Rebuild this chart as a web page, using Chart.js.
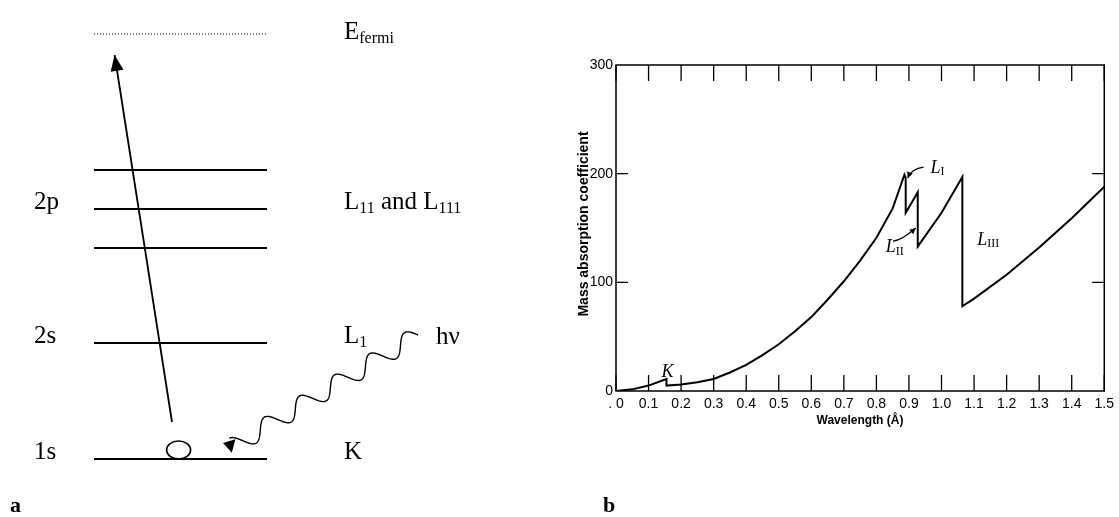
<!DOCTYPE html>
<html><head><meta charset="utf-8">
<script src="https://cdn.jsdelivr.net/npm/chart.js@4.4.1/dist/chart.umd.min.js"></script>
<style>
html,body{margin:0;padding:0;background:#fff;}
#wrap{position:relative;width:1119px;height:517px;overflow:hidden;background:#fff;}
canvas{position:absolute;top:0;}
#left{left:0;} #right{left:560px;}
</style></head><body>
<div id="wrap"><canvas id="left" width="560" height="517"></canvas><canvas id="right" width="559" height="517"></canvas></div>
<script>
// ===== Panel a: energy level diagram (energy units, 1s = 0)
const levelEnergies = [0, 116, 211, 250, 289];
const fermiEnergy = 425;
const levelSpan = [94, 267];
const shellLabels = ['1s', '2s', '2p'];
const shellEnergies = [0, 116, 250];
const edgeLabels = [
  [['K', 0]],
  [['L', 0], ['1', 1]],
  [['L', 0], ['11', 1], [' and L', 0], ['111', 1]],
  [['E', 0], ['fermi', 1]]
];
const edgeEnergies = [0, 116, 250, 420];
const transitionFrom = [172, 37];
const transitionTo = [114.6, 404];
const photonFrom = [418, 124];
const photonTo = [234, 13];
const photonLabel = 'hν';
const coreHole = [178.6, 9];

// ===== Panel b: mass absorption coefficient vs wavelength
const wavelength = [0, 0.05, 0.1, 0.155, 0.155, 0.2, 0.25, 0.3, 0.35, 0.4, 0.45, 0.5, 0.55, 0.6, 0.65, 0.7, 0.75, 0.8, 0.85, 0.886, 0.89, 0.89, 0.927, 0.927, 1.0, 1.064, 1.064, 1.1, 1.2, 1.3, 1.4, 1.5];
const coefficient = [0, 1.5, 5, 11, 5, 6, 8, 11, 17, 24, 33, 43, 55, 68, 84, 101, 120, 141, 168, 199, 196, 164, 183, 133, 164, 197, 78, 85, 107, 132, 159, 188];
const xTickLabels = ['. 0', '0.1', '0.2', '0.3', '0.4', '0.5', '0.6', '0.7', '0.8', '0.9', '1.0', '1.1', '1.2', '1.3', '1.4', '1.5'];
const yTickLabels = ['0', '100', '200', '300'];
const edgeNoteNames = ['K', 'L', 'L', 'L'];
const edgeNoteSubs = ['', 'I', 'II', 'III'];
const edgeNoteX = [0.158, 0.966, 0.829, 1.11];
const edgeNoteY = [17, 205, 132, 139];
const noteArrowFrom = [[0.945, 206], [0.851, 138]];
const noteArrowTo = [[0.896, 196], [0.921, 150]];

const SERIF = "'Liberation Serif','Times New Roman',serif";
const SANS = "'Liberation Sans',Arial,sans-serif";

function arrowHead(ctx, tipX, tipY, dx, dy, len, half) {
  const L = Math.hypot(dx, dy); const ux = dx / L, uy = dy / L;
  const bx = tipX - ux * len, by = tipY - uy * len;
  ctx.beginPath();
  ctx.moveTo(tipX, tipY);
  ctx.lineTo(bx - uy * half, by + ux * half);
  ctx.lineTo(bx + uy * half, by - ux * half);
  ctx.closePath(); ctx.fill();
}

function drawRuns(ctx, runs, x, y, big, small) {
  let cx = x;
  for (const [t, sub] of runs) {
    ctx.font = (sub ? small : big) + 'px ' + SERIF;
    ctx.fillText(t, cx, sub ? y + 4 : y);
    cx += ctx.measureText(t).width;
  }
}

const panelA = {
  id: 'panelA',
  afterDatasetsDraw(chart) {
    const ctx = chart.ctx, xs = chart.scales.x, ys = chart.scales.y;
    const X = v => xs.getPixelForValue(v), Y = v => ys.getPixelForValue(v);
    ctx.save();
    ctx.fillStyle = '#000'; ctx.strokeStyle = '#000';
    const tx0 = X(transitionFrom[0]), ty0 = Y(transitionFrom[1]);
    const tx1 = X(transitionTo[0]), ty1 = Y(transitionTo[1]);
    arrowHead(ctx, tx1, ty1, tx1 - tx0, ty1 - ty0, 16, 6.5);
    ctx.lineWidth = 1.6;
    ctx.beginPath();
    ctx.ellipse(X(coreHole[0]), Y(coreHole[1]), 12, 9, 0, 0, Math.PI * 2);
    ctx.stroke();
    const sx = X(photonFrom[0]), sy = Y(photonFrom[1]);
    const ex = X(photonTo[0]), ey = Y(photonTo[1]);
    const dx = ex - sx, dy = ey - sy, L = Math.hypot(dx, dy);
    const nx = -dy / L, ny = dx / L;
    const periods = 5.25, amp = 9;
    ctx.lineWidth = 1.4;
    ctx.beginPath();
    for (let i = 0; i <= 400; i++) {
      const t = i / 400;
      const s = amp * Math.sin(2 * Math.PI * periods * t);
      const px = sx + dx * t + nx * s, py = sy + dy * t + ny * s;
      if (i === 0) ctx.moveTo(px, py); else ctx.lineTo(px, py);
    }
    ctx.stroke();
    arrowHead(ctx, ex - 11, ey - 3, -11, -3, 11, 7);
    ctx.textBaseline = 'alphabetic';
    ctx.textAlign = 'left';
    shellLabels.forEach((t, i) => {
      ctx.font = '25px ' + SERIF;
      ctx.fillText(t, 34, Y(shellEnergies[i]));
    });
    edgeLabels.forEach((runs, i) => drawRuns(ctx, runs, 344, Y(edgeEnergies[i]), 25, 16));
    ctx.font = '25px ' + SERIF;
    ctx.fillText(photonLabel, 436, Y(photonFrom[1]) + 9);
    ctx.font = 'bold 22px ' + SERIF;
    ctx.fillText('a', 10, 512);
    ctx.restore();
  }
};

const datasetsA = levelEnergies.map(e => ({
  data: [{x: levelSpan[0], y: e}, {x: levelSpan[1], y: e}],
  borderColor: '#000', borderWidth: 2, pointRadius: 0, showLine: true
}));
datasetsA.push({
  data: [{x: levelSpan[0], y: fermiEnergy}, {x: levelSpan[1], y: fermiEnergy}],
  borderColor: '#000', borderWidth: 1, borderDash: [1, 2], pointRadius: 0, showLine: true
});
datasetsA.push({
  data: [{x: transitionFrom[0], y: transitionFrom[1]}, {x: transitionTo[0], y: transitionTo[1]}],
  borderColor: '#000', borderWidth: 1.8, pointRadius: 0, showLine: true
});

new Chart(document.getElementById('left'), {
  type: 'scatter',
  data: {datasets: datasetsA},
  options: {
    responsive: false, animation: false, devicePixelRatio: 1,
    layout: {padding: 0},
    plugins: {legend: {display: false}, tooltip: {enabled: false}},
    scales: {
      x: {type: 'linear', min: 0, max: 560, display: false},
      y: {type: 'linear', min: -58, max: 459, display: false}
    }
  },
  plugins: [panelA]
});

const panelB = {
  id: 'panelB',
  afterDraw(chart) {
    const ctx = chart.ctx, xs = chart.scales.x, ys = chart.scales.y;
    const a = chart.chartArea;
    const X = v => xs.getPixelForValue(v), Y = v => ys.getPixelForValue(v);
    ctx.save();
    ctx.strokeStyle = '#000'; ctx.fillStyle = '#000';
    ctx.lineWidth = 1.5;
    ctx.strokeRect(a.left, a.top, a.right - a.left, a.bottom - a.top);
    ctx.lineWidth = 1.3;
    xs.ticks.forEach((t, i) => {
      const px = xs.getPixelForTick(i);
      ctx.beginPath();
      ctx.moveTo(px, a.bottom); ctx.lineTo(px, a.bottom - 16);
      ctx.moveTo(px, a.top); ctx.lineTo(px, a.top + 16);
      ctx.stroke();
    });
    ys.ticks.forEach((t, i) => {
      if (i === 0 || i === ys.ticks.length - 1) return;
      const py = ys.getPixelForTick(i);
      ctx.beginPath();
      ctx.moveTo(a.left, py); ctx.lineTo(a.left + 12, py);
      ctx.moveTo(a.right, py); ctx.lineTo(a.right - 12, py);
      ctx.stroke();
    });
    ctx.textAlign = 'left'; ctx.textBaseline = 'middle';
    edgeNoteNames.forEach((n, i) => {
      const px = X(edgeNoteX[i]), py = Y(edgeNoteY[i]);
      ctx.font = 'italic 18px ' + SERIF;
      const w = ctx.measureText(n).width;
      ctx.fillText(n, px - (edgeNoteSubs[i] ? 0 : w / 2), py);
      if (edgeNoteSubs[i]) {
        ctx.font = '12px ' + SERIF;
        ctx.fillText(edgeNoteSubs[i], px + w, py + 4);
      }
    });
    ctx.lineWidth = 1.2;
    noteArrowFrom.forEach((f, i) => {
      const x0 = X(f[0]), y0 = Y(f[1]), x1 = X(noteArrowTo[i][0]), y1 = Y(noteArrowTo[i][1]);
      const cx = (x0 + x1) / 2 + (i === 0 ? -4 : -3), cy = (y0 + y1) / 2 + (i === 0 ? -4 : 6);
      ctx.beginPath(); ctx.moveTo(x0, y0); ctx.quadraticCurveTo(cx, cy, x1, y1); ctx.stroke();
      arrowHead(ctx, x1, y1, x1 - cx, y1 - cy, 6, 3);
    });
    ctx.textAlign = 'center'; ctx.textBaseline = 'middle';
    ctx.font = 'bold 12px ' + SANS;
    ctx.fillText('Wavelength (Å)', 300, 421);
    ctx.save();
    ctx.translate(24, 224); ctx.rotate(-Math.PI / 2);
    ctx.font = 'bold 14px ' + SANS;
    ctx.fillText('Mass absorption coefficient', 0, 0);
    ctx.restore();
    ctx.textAlign = 'left'; ctx.textBaseline = 'alphabetic';
    ctx.font = 'bold 22px ' + SERIF;
    ctx.fillText('b', 43, 512);
    ctx.restore();
  }
};

new Chart(document.getElementById('right'), {
  type: 'scatter',
  data: {datasets: [{
    data: wavelength.map((x, i) => ({x, y: coefficient[i]})),
    showLine: true, borderColor: '#000', borderWidth: 2, pointRadius: 0, tension: 0
  }]},
  options: {
    responsive: false, animation: false, devicePixelRatio: 1,
    layout: {padding: {left: 0, top: 65, right: 11, bottom: 0}},
    plugins: {legend: {display: false}, tooltip: {enabled: false}},
    scales: {
      x: {
        type: 'linear', min: 0, max: 1.5,
        grid: {display: false, drawTicks: false},
        border: {display: false},
        ticks: {stepSize: 0.1, autoSkip: false, maxRotation: 0, padding: 5, color: '#000',
          font: {family: SANS, size: 14},
          callback: (v, i) => xTickLabels[i] ?? ''},
        afterFit: s => { s.height = 126; }
      },
      y: {
        type: 'linear', min: 0, max: 300,
        grid: {display: false, drawTicks: false},
        border: {display: false},
        ticks: {stepSize: 100, padding: 3, color: '#000',
          font: {family: SANS, size: 14},
          callback: (v, i) => yTickLabels[i] ?? ''},
        afterFit: s => { s.width = 56; }
      }
    }
  },
  plugins: [panelB]
});
</script>
</body></html>
